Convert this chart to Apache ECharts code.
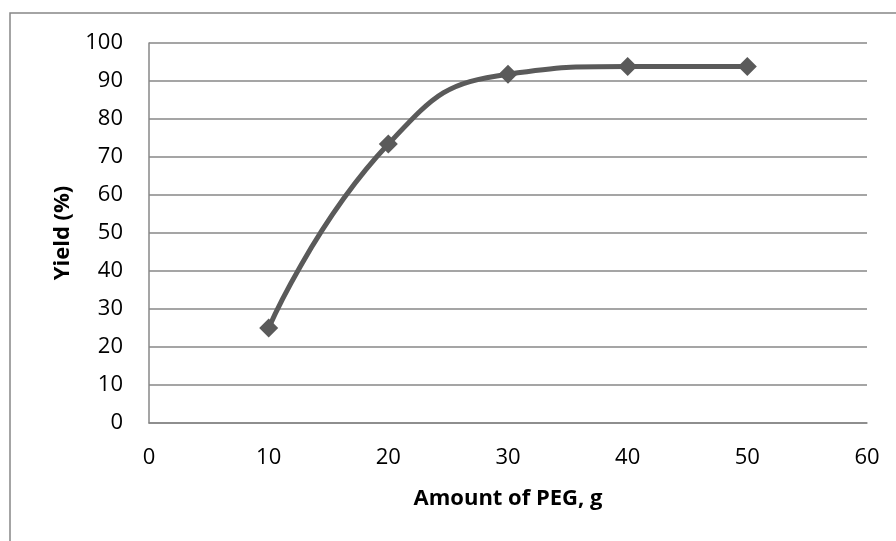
<!DOCTYPE html>
<html>
<head>
<meta charset="utf-8">
<script src="https://cdn.jsdelivr.net/npm/echarts@6/dist/echarts.min.js"></script>
<style>
  html, body { margin: 0; padding: 0; background: #fff; }
  #chart { width: 896px; height: 541px; }
</style>
</head>
<body>
<div id="chart"></div>
<script>
// Yield versus amount of PEG
const pegAmount = [10, 20, 30, 40, 50];
const yieldPct = [25, 73.4, 91.8, 93.8, 93.8];
const xTicks = { min: 0, max: 60, interval: 10 };
const yTicks = { min: 0, max: 100, interval: 10 };

const gridGray = '#878787';
const lineGray = '#5a5a5a';
const font = '"Open Sans", "Liberation Sans", sans-serif';

const chart = echarts.init(document.getElementById('chart'), null, { renderer: 'canvas' });
chart.setOption({
  animation: false,
  backgroundColor: '#ffffff',
  graphic: [{
    type: 'rect',
    shape: { x: 10, y: 13, width: 1000, height: 700 },
    style: { fill: 'none', stroke: gridGray, lineWidth: 1.5 },
    silent: true
  }],
  grid: { left: 149, right: 29, top: 43, bottom: 118 },
  xAxis: {
    type: 'value',
    min: xTicks.min, max: xTicks.max, interval: xTicks.interval,
    name: 'Amount of PEG, g',
    nameLocation: 'middle',
    nameGap: 65,
    nameTextStyle: { fontFamily: font, fontSize: 22, fontWeight: 'bold', color: '#000' },
    axisLine: { show: true, lineStyle: { color: gridGray, width: 1.5 } },
    axisTick: { show: false },
    splitLine: { show: false },
    axisLabel: { margin: 24, fontFamily: font, fontSize: 22, color: '#000' }
  },
  yAxis: {
    type: 'value',
    min: yTicks.min, max: yTicks.max, interval: yTicks.interval,
    name: 'Yield (%)',
    nameLocation: 'middle',
    nameGap: 75,
    nameTextStyle: { fontFamily: font, fontSize: 22, fontWeight: 'bold', color: '#000' },
    axisLine: { show: true, lineStyle: { color: gridGray, width: 1.5 } },
    axisTick: { show: false },
    splitLine: { show: true, lineStyle: { color: gridGray, width: 1.5 } },
    axisLabel: { margin: 26, fontFamily: font, fontSize: 22, color: '#000' }
  },
  series: [{
    type: 'line',
    data: pegAmount.map((x, i) => [x, yieldPct[i]]),
    smooth: 0.5,
    symbol: 'diamond',
    symbolSize: 19,
    showAllSymbol: true,
    lineStyle: { color: lineGray, width: 5 },
    itemStyle: { color: lineGray }
  }]
});
</script>
</body>
</html>
